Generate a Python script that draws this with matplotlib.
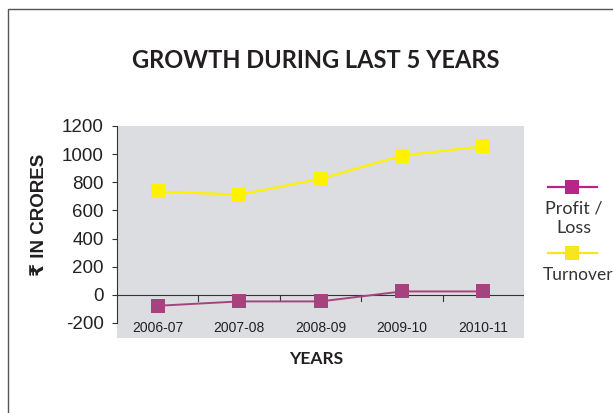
import matplotlib
matplotlib.use("Agg")
import matplotlib.pyplot as plt
from matplotlib.patches import Rectangle
from matplotlib.lines import Line2D

years = ["2006-07", "2007-08", "2008-09", "2009-10", "2010-11"]
profit_loss = [-78, -47, -47, 24, 24]
turnover = [735, 712, 824, 990, 1056]
y_ticks = [-200, 0, 200, 400, 600, 800, 1000, 1200]

purple = "#a6437f"
yellow = "#fff200"
gray_bg = "#dcdde0"
humanist = ["Lato", "DejaVu Sans"]
arial = ["Liberation Sans", "DejaVu Sans"]

W, H = 613, 413
fig = plt.figure(figsize=(W / 100, H / 100), dpi=100)

# page box border
fig.patches.append(Rectangle((8 / W, -0.1), 1.2, 1 - 9 / H + 0.1, transform=fig.transFigure,
                             fill=False, edgecolor="#555555", linewidth=1.0))

ax = fig.add_axes([117 / W, 1 - 338 / H, (524 - 117) / W, (338 - 126) / H])
ax.set_facecolor(gray_bg)
x = [i + 0.5 for i in range(len(years))]

ax.plot(x, turnover, color=yellow, linewidth=1.6, marker="s", markersize=10.5,
        markeredgewidth=0, zorder=3)
ax.plot(x, profit_loss, color=purple, linewidth=1.4, marker="s", markersize=10.5,
        markeredgewidth=0, zorder=3)

ax.set_xlim(0, len(years))
ax.set_ylim(-307, 1200)
for s in ["top", "right", "bottom"]:
    ax.spines[s].set_visible(False)
ax.spines["left"].set_bounds(-200, 1200)
ax.spines["left"].set_color("#333333")
ax.spines["left"].set_linewidth(0.8)

ax.set_yticks(y_ticks)
ax.set_yticklabels([str(v) for v in y_ticks], fontsize=13.5, family=arial, color="#222222")
ax.tick_params(axis="y", direction="out", length=3.5, width=0.8, pad=6, color="#333333")

# category axis at zero
ax.axhline(0, color="#333333", linewidth=0.8, zorder=2)
ax.set_xticks([])
for i in range(1, len(years) + 1):
    ax.plot([i, i], [0, -45], color="#333333", linewidth=0.8, zorder=2)
for xi, lab in zip(x, years):
    ax.text(xi, 0.045, lab, transform=ax.get_xaxis_transform(), ha="center", va="center",
            fontsize=10, family=arial, color="#222222")

fig.text(316 / W, 1 - 61 / H, "GROWTH DURING LAST 5 YEARS", ha="center", va="center",
         fontsize=17, fontweight="bold", family=humanist, color="#231f20")
fig.text(316 / W, 1 - 359 / H, "YEARS", ha="center", va="center",
         fontsize=12.5, fontweight="bold", family=humanist, color="#231f20")
fig.text(39 / W, 1 - 215 / H, "\u20b9 IN CRORES", ha="center", va="center", rotation=90,
         fontsize=13.5, fontweight="bold", family=arial, color="#231f20")

# legend
for yc, col in [(187, "#b5258a"), (253, "#f7e61e")]:
    fig.add_artist(Line2D([548 / W, 597 / W], [1 - yc / H, 1 - yc / H], color=col,
                          linewidth=1.6, transform=fig.transFigure))
    fig.add_artist(Line2D([572 / W], [1 - yc / H], color=col, marker="s", markersize=9.5,
                          markeredgewidth=0, transform=fig.transFigure))
fig.text(574 / W, 1 - 218.5 / H, "Profit /\nLoss", ha="center", va="center",
         fontsize=13, family=humanist, color="#333333", linespacing=1.3)
fig.text(578 / W, 1 - 275 / H, "Turnover", ha="center", va="center",
         fontsize=12.5, family=humanist, color="#333333")

fig.savefig("out.png", dpi=100)
